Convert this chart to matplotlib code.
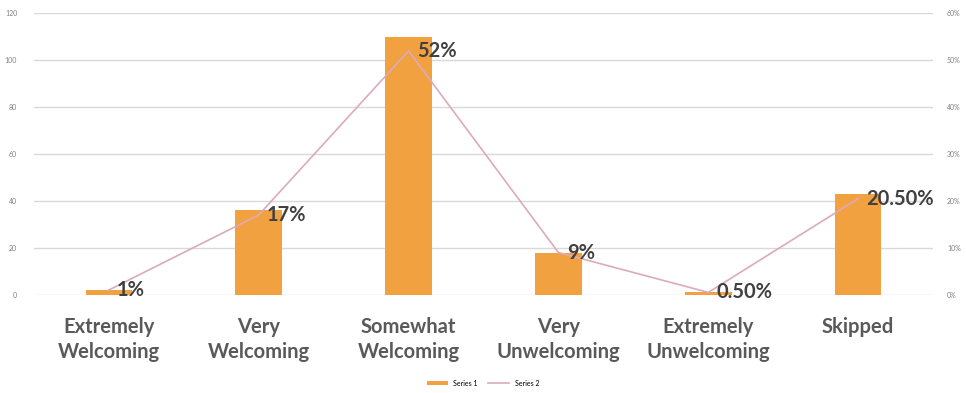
import matplotlib

matplotlib.use("Agg")
import matplotlib.pyplot as plt
from matplotlib.lines import Line2D
from matplotlib.patches import Patch

categories = [
    "Extremely\nWelcoming",
    "Very\nWelcoming",
    "Somewhat\nWelcoming",
    "Very\nUnwelcoming",
    "Extremely\nUnwelcoming",
    "Skipped",
]
counts = [2, 36, 110, 18, 1, 43]  # series 1, left axis
shares = [0.01, 0.17, 0.52, 0.09, 0.005, 0.205]  # series 2, right axis
share_labels = ["1%", "17%", "52%", "9%", "0.50%", "20.50%"]
left_ticks = [0, 20, 40, 60, 80, 100, 120]
right_ticks = [0, 0.1, 0.2, 0.3, 0.4, 0.5, 0.6]

BAR = "#f2a140"
LINE = "#ddaabb"
GRID = "#d9d9d9"
TEXT = "#404040"
FONT = ["Lato", "DejaVu Sans"]

fig = plt.figure(figsize=(9.66, 3.93), dpi=100)
ax = fig.add_axes([0.035, 0.250, 0.931, 0.716])
x = list(range(len(categories)))

ax.bar(x, counts, width=0.31, color=BAR, zorder=2)
ax.set_ylim(0, 120)
ax.set_xlim(-0.5, len(categories) - 0.5)
ax.set_yticks(left_ticks)
ax.set_yticklabels([str(t) for t in left_ticks], fontsize=5, color="#7f7f7f", family=FONT)
ax.set_xticks(x)
ax.set_xticklabels(categories, fontsize=14.5, fontweight="bold", color="#595959",
                   family=FONT, linespacing=1.32)
ax.tick_params(axis="both", length=0)
ax.tick_params(axis="x", pad=16)
ax.tick_params(axis="y", pad=12)
ax.grid(axis="y", color=GRID, linewidth=1.0, zorder=0)
ax.set_axisbelow(True)
for s in ax.spines.values():
    s.set_visible(False)

ax2 = ax.twinx()
ax2.plot(x, shares, color=LINE, linewidth=1.2, zorder=3)
ax2.set_ylim(0, 0.6)
ax2.set_yticks(right_ticks)
ax2.set_yticklabels([f"{int(round(t * 100))}%" for t in right_ticks], fontsize=5,
                    color="#7f7f7f", family=FONT)
ax2.tick_params(axis="y", length=0, pad=10)
for s in ax2.spines.values():
    s.set_visible(False)

for xi, v, lab in zip(x, shares, share_labels):
    ax2.annotate(lab, (xi, v), xytext=(6, 0), textcoords="offset points",
                 ha="left", va="center", fontsize=14.5, fontweight="bold",
                 color=TEXT, family=FONT, zorder=4)

handles = [
    Patch(facecolor=BAR, edgecolor="none"),
    Line2D([0], [0], color=LINE, linewidth=1.2),
]
fig.legend(handles, ["Series 1", "Series 2"], loc="center", bbox_to_anchor=(0.5, 0.025),
           ncol=2, frameon=False, handlelength=3, handleheight=0.5,
           columnspacing=1.5, prop={"family": FONT, "size": 5})

fig.savefig("out.png", dpi=100)
plt.close(fig)
